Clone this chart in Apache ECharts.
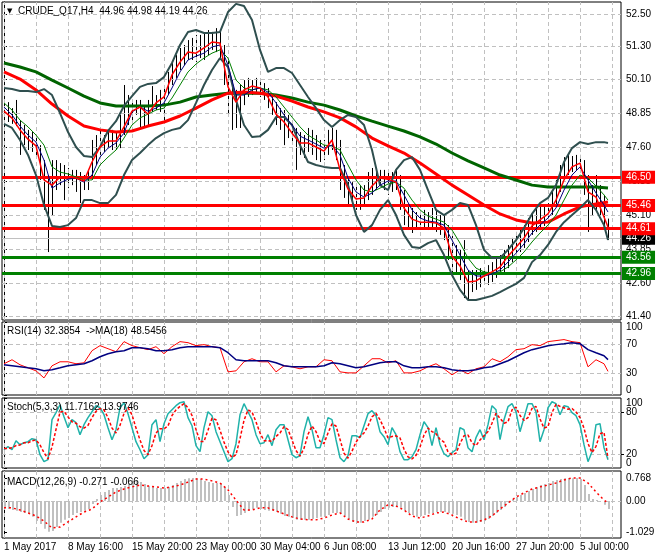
<!DOCTYPE html>
<html><head><meta charset="utf-8">
<script src="https://cdn.jsdelivr.net/npm/echarts@6/dist/echarts.min.js"></script>
<style>html,body{margin:0;padding:0;background:#fff}#c{width:660px;height:560px}</style>
</head><body><div id="c"></div>
<script>
// ---------- data ----------
const symbolTitle = 'CRUDE_Q17,H4  44.96 44.98 44.19 44.26';
const rsiTitle = 'RSI(14) 32.3854  ->MA(18) 48.5456';
const stochTitle = 'Stoch(5,3,3) 11.7162 13.9746';
const macdTitle = 'MACD(12,26,9) -0.271 -0.066';

const dateLabels = ['1 May 2017','8 May 16:00','15 May 20:00','23 May 00:00','30 May 04:00','6 Jun 08:00','13 Jun 12:00','20 Jun 16:00','27 Jun 20:00','5 Jul 00:00'];
const priceTicks = [52.50, 51.30, 50.10, 48.85, 47.60, 46.35, 45.10, 43.85, 42.60, 41.40];
const rsiTicks = [0, 30, 70, 100];
const stochEdgeTicks = [0, 100];
const stochLevelTicks = [20, 80];
const macdTicks = [-1.029, 0, 0.768];
const macdTickText = ['-1.029', '0.00', '0.768'];

const resistanceLevels = [46.50, 45.46, 44.61];
const supportLevels = [43.56, 42.96];
const lastPrice = 44.26;

// price bars (every second H4 bar), high / low
const barHigh = [49.19,49.26,49.04,49.34,48.60,48.42,48.24,48.16,48.05,47.68,
47.13,46.58,47.13,47.13,47.02,46.95,46.84,46.77,46.77,46.69,
46.58,46.77,47.87,48.05,48.31,48.05,48.24,48.24,48.16,48.79,
49.89,49.52,49.34,49.34,49.34,49.15,49.34,49.85,49.52,49.71,
49.89,50.37,50.73,50.99,51.25,51.36,51.54,51.62,51.73,51.73,
51.80,51.91,51.84,51.98,51.91,51.36,50.81,50.07,49.71,49.89,
50.07,50.15,50.07,50.15,50.07,49.96,49.78,49.52,49.26,49.04,
48.97,48.79,48.60,48.31,48.16,48.05,48.31,48.24,48.05,47.87,
47.87,48.24,48.31,48.24,47.87,46.95,46.47,46.32,46.21,46.21,
46.21,46.69,46.84,46.77,46.77,46.77,46.77,46.69,46.84,46.58,
46.03,45.48,45.37,45.22,45.19,45.30,45.22,45.37,45.30,45.11,
45.11,44.74,44.38,44.01,43.83,44.19,43.09,43.09,43.09,43.16,
43.20,43.27,43.38,43.53,43.64,43.83,44.01,44.27,44.49,44.56,
44.74,45.00,45.22,45.41,45.48,45.48,45.55,45.96,46.40,46.95,
47.24,47.32,47.28,47.32,47.32,47.13,46.58,46.21,46.58,46.21,
45.85,44.98];
const barLow = [48.60,48.53,48.46,48.38,47.32,47.68,47.50,47.43,47.21,46.40,
45.30,43.75,45.11,46.03,46.21,45.66,46.10,46.21,45.96,45.55,
46.03,46.03,46.40,46.95,47.32,47.43,47.57,47.50,47.50,47.57,
48.05,48.42,48.60,48.79,48.31,48.35,48.42,48.90,48.97,48.90,
48.60,49.52,49.89,50.15,50.44,50.62,50.81,50.81,50.73,50.88,
50.81,50.99,51.18,51.10,50.81,49.89,48.79,48.24,48.31,48.31,
49.15,49.45,49.52,49.56,49.45,49.34,49.04,48.79,48.42,48.24,
47.68,47.94,47.79,46.77,47.32,47.21,47.43,47.32,47.13,47.06,
47.13,47.32,47.50,47.13,46.03,45.74,45.48,45.41,45.30,45.30,
45.48,45.66,45.85,46.03,46.21,46.03,45.85,45.96,46.03,45.30,
44.74,44.56,44.45,44.56,44.56,44.63,44.56,44.56,44.49,44.38,
44.19,43.46,42.91,42.91,42.72,42.06,41.99,42.28,42.36,42.46,
42.54,42.54,42.65,42.80,42.91,42.91,43.16,43.38,43.53,43.75,
43.90,44.12,44.38,44.49,44.63,44.71,44.85,45.11,45.48,45.96,
46.40,46.58,46.69,46.77,46.69,45.85,44.49,45.11,45.22,45.11,
44.63,44.19];

// moving averages / bands sampled every 4 bars
const maFast = [48.93,48.67,48.24,47.90,47.65,46.40,46.21,46.51,46.51,46.47,
46.36,47.06,47.61,47.83,47.83,48.35,48.93,49.08,48.82,49.23,
49.45,50.26,50.73,51.10,51.06,51.25,51.47,51.43,49.82,49.26,
49.71,49.85,49.78,49.45,48.82,48.53,48.12,47.76,47.76,47.61,
47.46,47.87,46.77,46.07,45.70,45.74,46.18,46.47,46.43,46.32,
45.37,44.96,44.85,44.85,44.82,44.63,43.60,43.24,42.65,42.69,
42.87,43.02,43.20,43.60,43.93,44.26,44.71,44.93,45.15,45.66,
46.40,46.88,47.02,45.96,45.77,45.04,44.67];
const maMid = [49.08,48.79,48.38,48.05,47.79,47.13,46.10,46.29,46.43,46.47,
46.32,46.58,47.24,47.57,47.76,48.12,48.90,49.08,48.93,49.04,
49.23,49.78,50.37,50.81,50.95,51.06,51.29,51.36,50.62,49.52,
49.52,49.71,49.78,49.63,49.23,48.79,48.42,48.01,47.87,47.72,
47.57,47.68,47.32,46.47,45.96,45.77,45.92,46.21,46.36,46.36,
45.85,45.30,45.00,44.89,44.85,44.74,44.19,43.64,43.09,42.87,
42.87,42.94,43.09,43.38,43.71,44.05,44.45,44.74,45.00,45.37,
46.03,46.58,46.88,46.40,45.92,45.48,45.22];
const maSlow = [49.23,48.97,48.60,48.35,48.05,47.68,46.88,46.69,46.62,46.51,
46.40,46.40,46.95,47.24,47.50,47.94,48.42,48.68,48.82,48.97,
49.04,49.41,49.89,50.37,50.66,50.88,51.06,51.18,50.88,50.07,
49.78,49.71,49.78,49.71,49.45,49.08,48.71,48.35,48.05,47.87,
47.68,47.65,47.50,46.95,46.40,46.03,45.96,46.10,46.25,46.32,
46.10,45.66,45.30,45.07,44.96,44.85,44.56,44.08,43.53,43.16,
43.02,42.98,43.02,43.20,43.46,43.75,44.12,44.45,44.74,45.11,
45.66,46.21,46.58,46.47,46.18,45.85,45.66];
const bbUpper = [49.78,49.74,49.67,49.67,49.63,49.74,49.52,48.86,48.16,47.61,
47.28,47.24,47.61,48.20,48.56,49.12,49.48,49.82,49.93,49.96,
50.18,50.70,51.36,51.84,51.91,51.80,51.80,51.84,52.57,52.87,
52.79,52.28,51.18,50.37,50.51,50.51,50.33,49.89,49.45,49.04,
48.60,48.35,48.60,48.79,48.71,48.42,47.50,46.21,46.03,46.77,
47.13,47.24,46.77,46.03,45.30,45.11,45.30,45.55,45.48,44.74,
43.83,43.53,43.53,43.83,44.19,44.63,45.15,45.55,45.74,46.21,
47.06,47.57,47.79,47.72,47.79,47.79,47.76];
const bbLower = [48.46,48.31,47.87,47.32,46.58,45.48,44.71,44.67,44.74,45.00,
45.66,45.66,45.55,45.55,45.85,46.58,47.13,47.39,47.68,47.94,
48.12,48.24,48.31,48.60,49.23,49.89,50.44,50.88,50.55,49.34,
48.42,47.98,48.01,48.24,48.71,48.71,48.42,47.68,47.06,46.95,
46.88,46.84,46.84,46.21,45.11,44.49,44.74,45.30,45.66,45.11,
44.38,43.94,43.90,44.08,44.19,43.64,42.91,42.36,41.99,41.99,
42.06,42.14,42.28,42.43,42.58,42.80,43.38,43.64,44.01,44.49,
44.85,45.11,45.37,45.66,45.30,44.74,44.19];
// slow moving averages sampled every 8 bars
const maLongRed = [50.37,50.11,49.71,49.19,48.75,48.38,48.24,48.16,48.20,48.38,
48.53,48.75,49.04,49.34,49.59,49.63,49.59,49.48,49.30,49.08,
48.90,48.68,48.35,47.94,47.65,47.39,47.02,46.62,46.21,45.85,
45.48,45.15,44.93,44.82,44.85,45.15,45.41,45.52,45.59];
const maLongGreen = [50.70,50.55,50.37,50.07,49.78,49.48,49.23,49.12,49.12,49.12,
49.15,49.26,49.45,49.52,49.59,49.59,49.59,49.52,49.41,49.26,
49.15,48.97,48.75,48.56,48.38,48.20,47.98,47.72,47.39,47.10,
46.84,46.58,46.40,46.21,46.14,46.14,46.14,46.14,46.10];

// RSI panel (every 4 bars)
const rsiValues = [42.8,48.3,41.4,37.2,33.1,23.4,40.0,45.5,45.5,42.8,
44.1,60.7,67.6,63.4,59.3,73.1,67.6,64.8,62.1,66.2,
56.6,66.2,73.1,71.7,67.6,69.0,66.2,64.8,31.7,33.1,
45.5,49.7,45.5,45.5,31.7,40.0,38.6,35.9,38.6,38.6,
48.3,46.9,31.7,30.3,30.3,40.0,49.7,49.7,44.1,46.9,
30.3,30.3,33.1,38.6,42.8,35.9,27.6,34.5,29.0,35.9,
38.6,49.7,45.5,52.4,62.1,63.4,69.0,67.6,73.1,74.5,
75.9,73.1,71.7,38.6,48.3,42.8,32.4];
const rsiMaValues = [41.4,40.0,38.6,37.2,35.9,33.1,34.5,37.2,40.0,41.4,
42.8,46.9,52.4,56.6,59.3,60.7,64.8,64.8,63.4,60.7,
60.7,62.1,64.8,66.2,66.2,66.2,66.2,64.8,57.9,48.3,
46.9,46.9,46.9,46.9,44.1,40.0,38.6,38.6,38.6,38.6,
40.0,44.1,42.8,40.0,37.2,38.6,41.4,44.1,45.5,45.5,
40.0,37.2,37.2,38.6,38.6,37.2,34.5,33.1,33.1,34.5,
37.2,38.6,42.8,46.9,52.4,57.9,62.1,64.8,67.6,69.0,
70.3,71.7,70.3,62.1,57.9,53.8,48.5];

// Stochastic panel (every 2 bars)
const stochK = [26.1,30.4,26.1,39.0,33.3,36.1,37.6,41.9,40.4,19.0,
9.0,11.9,69.0,79.0,90.4,73.3,57.6,69.0,64.7,47.6,
61.9,71.9,80.4,89.0,86.1,76.1,57.6,40.4,54.7,86.1,
93.3,77.6,57.6,37.6,26.1,13.3,19.0,61.9,69.0,37.6,
63.3,77.6,83.3,89.0,93.3,94.7,71.9,60.4,31.9,23.3,
57.6,80.4,74.7,51.9,37.6,23.3,9.0,13.3,34.7,76.1,
91.9,80.4,69.0,47.6,34.7,36.1,47.6,31.9,54.7,61.9,
61.9,40.4,19.0,14.7,17.6,51.9,73.3,54.7,29.0,29.0,
47.6,71.9,69.0,40.4,14.7,9.0,17.6,46.1,46.1,43.3,
60.4,77.6,81.9,74.7,51.9,44.7,33.3,57.6,47.6,23.3,
11.9,11.9,16.1,26.1,47.6,66.1,57.6,31.9,57.6,33.3,
20.4,16.1,21.9,26.1,57.6,54.7,29.0,23.3,43.3,54.7,
40.4,61.9,89.0,83.3,40.4,69.0,87.6,91.9,80.4,51.9,
71.9,91.9,91.9,80.4,37.6,54.7,86.1,94.7,91.9,76.1,
89.0,87.6,79.0,74.7,61.9,33.3,9.0,23.3,61.9,63.3,
29.0,11.7];
const stochD = [28,28,29,32,33,36,36,39,40,33,
22,13,30,55,80,81,73,66,64,59,
57,61,72,81,85,83,72,57,50,61,
78,86,76,57,40,25,19,32,50,56,
56,60,75,83,88,92,86,75,55,38,
38,54,71,69,54,37,23,15,19,42,
68,83,80,66,50,39,39,38,45,50,
59,55,40,25,17,28,48,60,52,38,
35,50,63,60,41,21,14,24,37,45,
50,60,73,78,69,57,43,45,46,43,
27,16,13,18,30,47,57,52,49,41,
37,23,19,21,35,46,47,36,32,40,
46,52,64,78,71,64,66,83,87,75,
68,72,85,88,70,57,59,79,91,88,
86,84,85,80,72,57,35,22,31,49,
51,14.0];

// MACD panel: histogram every 2 bars, signal every 4 bars
const macdHist = [-0.23,-0.27,-0.30,-0.33,-0.37,-0.40,-0.43,-0.53,-0.67,-0.77,
-0.93,-1.03,-1.00,-0.87,-0.73,-0.63,-0.57,-0.47,-0.40,-0.37,
-0.33,-0.27,-0.10,0.07,0.20,0.30,0.37,0.43,0.43,0.47,
0.50,0.60,0.67,0.70,0.63,0.57,0.50,0.47,0.43,0.43,
0.43,0.47,0.53,0.60,0.67,0.73,0.76,0.77,0.76,0.73,
0.67,0.63,0.60,0.60,0.57,0.47,0.20,-0.20,-0.50,-0.47,
-0.40,-0.33,-0.27,-0.23,-0.27,-0.30,-0.33,-0.33,-0.37,-0.43,
-0.50,-0.53,-0.57,-0.63,-0.63,-0.63,-0.63,-0.60,-0.57,-0.53,
-0.53,-0.47,-0.40,-0.40,-0.43,-0.50,-0.60,-0.70,-0.73,-0.73,
-0.67,-0.63,-0.53,-0.47,-0.37,-0.27,-0.23,-0.20,-0.20,-0.23,
-0.33,-0.40,-0.47,-0.53,-0.50,-0.47,-0.43,-0.40,-0.37,-0.37,
-0.37,-0.40,-0.43,-0.47,-0.53,-0.63,-0.70,-0.73,-0.73,-0.70,
-0.67,-0.60,-0.50,-0.40,-0.30,-0.20,-0.07,0.07,0.13,0.20,
0.27,0.33,0.40,0.47,0.53,0.57,0.60,0.67,0.70,0.73,
0.76,0.77,0.76,0.768,0.73,0.53,0.23,0.07,0.03,0.00,
-0.13,-0.271];
const macdSignal = [-0.23,-0.23,-0.30,-0.40,-0.50,-0.67,-0.90,-0.87,-0.70,-0.53,
-0.37,-0.27,-0.03,0.13,0.30,0.40,0.47,0.53,0.50,0.47,
0.43,0.47,0.53,0.63,0.73,0.73,0.67,0.60,0.37,0.03,
-0.30,-0.30,-0.23,-0.23,-0.33,-0.43,-0.53,-0.60,-0.63,-0.63,
-0.57,-0.47,-0.40,-0.60,-0.70,-0.70,-0.60,-0.30,-0.13,-0.17,
-0.30,-0.50,-0.57,-0.50,-0.40,-0.37,-0.47,-0.60,-0.70,-0.70,
-0.63,-0.50,-0.27,-0.07,0.13,0.27,0.40,0.47,0.53,0.60,
0.70,0.77,0.77,0.60,0.30,0.03,-0.066];

// ---------- chart ----------
const FONT = '"Liberation Sans", Arial, sans-serif';
const LAST_BAR = 302;          // index of the last H4 bar
const X_MIN = -1, X_MAX = 308.5; // visible bar range
const GRID_STEP = 16;           // bars between vertical grid lines
const LABEL_STEP = 32;          // bars between date labels

function pts(arr, step) { return arr.map((v, j) => [Math.min(j * step, LAST_BAR), v]); }
const gridX = []; for (let i = 0; i <= 304; i += GRID_STEP) gridX.push(i);
const labelX = dateLabels.map((_, k) => k * LABEL_STEP);

const grids = [
  {left: 2, right: 39, top: 2, height: 318},
  {left: 2, right: 39, top: 322, height: 73},
  {left: 2, right: 39, top: 398, height: 70},
  {left: 2, right: 39, top: 471, height: 67}
].map(g => Object.assign(g, {show: true, borderColor: '#000', borderWidth: 1, backgroundColor: '#fff'}));

const xAxes = grids.map((g, i) => ({
  gridIndex: i, type: 'value', min: X_MIN, max: X_MAX,
  axisLine: {show: false}, axisTick: {show: false}, splitLine: {show: false},
  axisLabel: i === 3 ? {show: true, customValues: labelX, formatter: v => dateLabels[Math.round(v / LABEL_STEP)],
    align: 'left', margin: 4, color: '#000', fontSize: 10, fontFamily: FONT, hideOverlap: false} : {show: false}
}));

function yAxis(i, min, max, ticks, fmt, edgeAlign, showLine) {
  return {
    gridIndex: i, type: 'value', position: 'right', min, max,
    splitLine: {show: false},
    axisLine: {show: showLine !== false, lineStyle: {color: '#000'}},
    axisTick: {show: true, length: 3, customValues: ticks, lineStyle: {color: '#000'}},
    axisLabel: Object.assign({customValues: ticks, formatter: fmt, margin: 5, color: '#000', fontSize: 10, fontFamily: FONT,
      showMinLabel: true, showMaxLabel: true, hideOverlap: false},
      edgeAlign ? {verticalAlignMinLabel: 'bottom', verticalAlignMaxLabel: 'top'} : {})
  };
}
const yAxes = [
  yAxis(0, 41.253, 52.94, priceTicks, v => v.toFixed(2), false),
  yAxis(1, 0, 100, rsiTicks, v => String(v), true),
  yAxis(2, 0, 100, stochEdgeTicks, v => String(v), true),
  yAxis(3, -1.235, 1.0, macdTicks, v => macdTickText[macdTicks.indexOf(v)] || v.toFixed(3), false),
  yAxis(2, 0, 100, stochLevelTicks, v => String(v), false, false)
];

const gridLineStyle = {color: '#C0C0C0', type: [4, 3], width: 1};
function gridSeries(i, hLevels) {
  return {
    type: 'line', xAxisIndex: i, yAxisIndex: i, data: [], z: 1, silent: true,
    markLine: {silent: true, symbol: ['none', 'none'], label: {show: false}, lineStyle: gridLineStyle, animation: false,
      data: gridX.map(v => ({xAxis: v})).concat(hLevels.map(v => ({yAxis: v})))}
  };
}

function lineS(i, data, color, width, z, extra) {
  return Object.assign({type: 'line', xAxisIndex: i, yAxisIndex: i, data, showSymbol: false, symbol: 'none',
    silent: true, z, lineStyle: {color, width}, animation: false}, extra || {});
}

function tag(v, bg, lineColor, lineWidth) {
  return {yAxis: v, lineStyle: {color: lineColor, width: lineWidth, type: 'solid'},
    label: {show: true, position: 'end', distance: 1, formatter: v.toFixed(2), color: '#fff', backgroundColor: bg,
      padding: [2, 4, 1, 4], fontSize: 10, fontFamily: FONT}};
}

const barData = barHigh.map((h, k) => [Math.min(k * 2, LAST_BAR), h, barLow[k]]);
const histData = macdHist.map((v, k) => [Math.min(k * 2, LAST_BAR), v]);

const titleStyle = {fontSize: 10, color: '#000', fontWeight: 'normal', fontFamily: FONT};
const option = {
  animation: false,
  backgroundColor: '#fff',
  title: [
    {text: '▼', left: 7, top: 8, padding: 0, textStyle: {fontSize: 7, color: '#000', fontWeight: 'normal', fontFamily: 'DejaVu Sans'}},
    {text: symbolTitle, left: 18, top: 6, padding: 0, textStyle: titleStyle},
    {text: rsiTitle, left: 7, top: 326, padding: 0, textStyle: titleStyle},
    {text: stochTitle, left: 7, top: 402, padding: 0, textStyle: titleStyle},
    {text: macdTitle, left: 7, top: 477, padding: 0, textStyle: titleStyle}
  ],
  grid: grids, xAxis: xAxes, yAxis: yAxes,
  series: [
    gridSeries(0, priceTicks), gridSeries(1, [30, 70]), gridSeries(2, [20, 80]), gridSeries(3, [0]),
    // level lines with price tags
    {type: 'line', xAxisIndex: 0, yAxisIndex: 0, data: [], z: 3, silent: true,
      markLine: {silent: true, symbol: ['none', 'none'], animation: false,
        data: [tag(lastPrice, '#000', '#C0C0C0', 1)]
          .concat(resistanceLevels.map(v => tag(v, '#FF0000', '#FF0000', 3)))
          .concat(supportLevels.map(v => tag(v, '#008000', '#008000', 3)))}},
    // price bars
    {type: 'custom', xAxisIndex: 0, yAxisIndex: 0, z: 4, silent: true, data: barData, encode: {x: 0, y: [1, 2]},
      renderItem: (params, api) => {
        const a = api.coord([api.value(0), api.value(1)]);
        const b = api.coord([api.value(0), api.value(2)]);
        const px = Math.round(a[0]) + 0.5;
        return {type: 'line', shape: {x1: px, y1: a[1], x2: px, y2: b[1]}, style: {stroke: '#000', lineWidth: 1}};
      }},
    lineS(0, pts(maLongGreen, 8), '#006400', 3, 5),
    lineS(0, pts(maLongRed, 8), '#FF0000', 3, 5),
    lineS(0, pts(bbUpper, 4), '#2F4F4F', 2, 6),
    lineS(0, pts(bbLower, 4), '#2F4F4F', 2, 6),
    lineS(0, pts(maSlow, 4), '#008000', 1, 7),
    lineS(0, pts(maMid, 4), '#000080', 1, 7),
    lineS(0, pts(maFast, 4), '#FF0000', 1.5, 7),
    // RSI
    lineS(1, pts(rsiValues, 4), '#FF0000', 1, 5),
    lineS(1, pts(rsiMaValues, 4), '#000080', 1.5, 5),
    // Stochastic
    lineS(2, pts(stochK, 2), '#20B2AA', 1.5, 5),
    lineS(2, pts(stochD, 2), '#FF0000', 1.5, 6, {lineStyle: {color: '#FF0000', width: 1.5, type: [3, 2]}}),
    // MACD
    {type: 'custom', xAxisIndex: 3, yAxisIndex: 3, z: 4, silent: true, data: histData, encode: {x: 0, y: 1},
      renderItem: (params, api) => {
        const a = api.coord([api.value(0), 0]);
        const b = api.coord([api.value(0), api.value(1)]);
        const px = Math.round(a[0]) + 1;
        return {type: 'line', shape: {x1: px, y1: a[1], x2: px, y2: b[1]}, style: {stroke: '#C0C0C0', lineWidth: 2}};
      }},
    lineS(3, pts(macdSignal, 4), '#FF0000', 1.5, 5, {lineStyle: {color: '#FF0000', width: 1.5, type: [2, 3]}})
  ]
};
const chart = echarts.init(document.getElementById('c'), null, {renderer: 'canvas'});
chart.setOption(option);
</script></body></html>
